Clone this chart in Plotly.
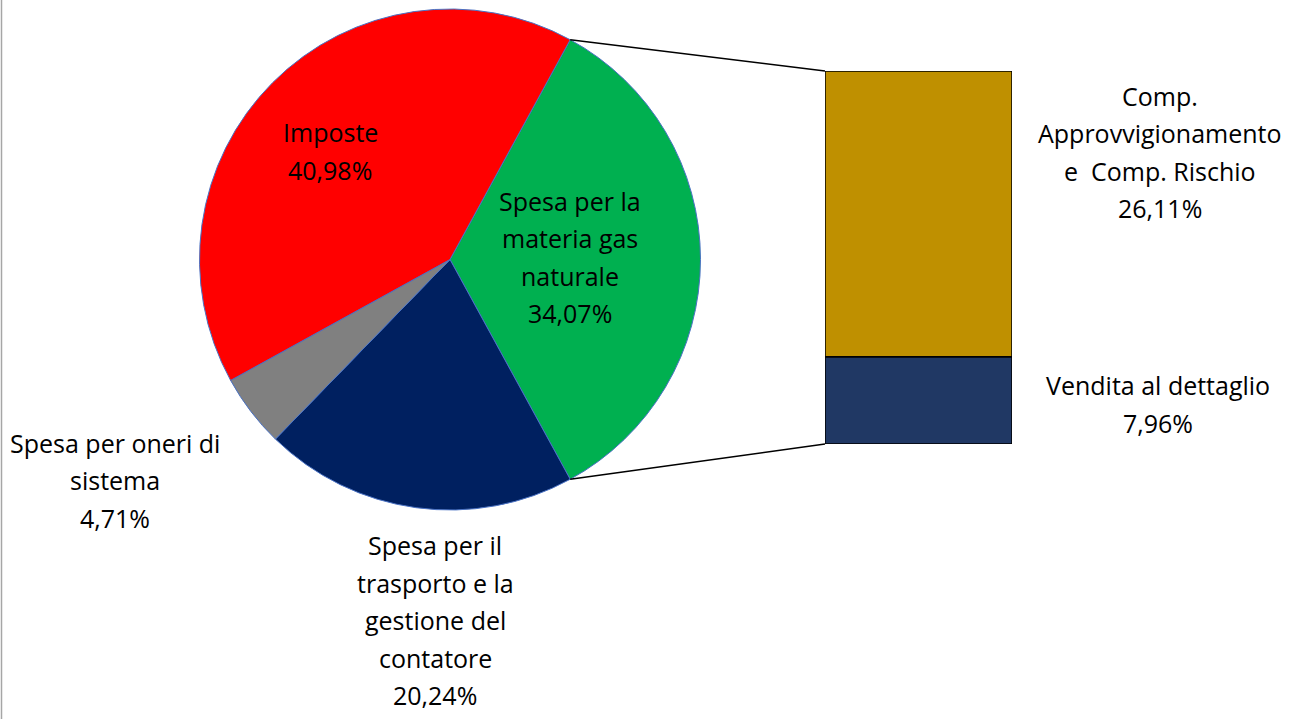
import math
import plotly.graph_objects as go

# dati della torta (ordine orario a partire dalla fetta scomposta)
pie_labels = ["Spesa per la materia gas naturale", "Spesa per il trasporto e la gestione del contatore",
              "Spesa per oneri di sistema", "Imposte"]
pie_values = [34.07, 20.24, 4.71, 40.98]
pie_colors = ["#00B050", "#002060", "#808080", "#FF0000"]

# dettaglio della fetta "materia gas naturale"
bar_labels = ["Vendita al dettaglio", "Comp. Approvvigionamento e Comp. Rischio"]
bar_values = [7.96, 26.11]
bar_colors = ["#203864", "#BF9000"]

W, H = 1301, 719
FONT = "Open Sans"
LINE_H = 37.5

# geometria (pixel)
pie_cx, pie_cy, pie_r = 450, 259.5, 250.5
bar_x0, bar_x1, bar_top, bar_bot = 825, 1012, 71, 444


def px(x):
    return x / W


def py(y):
    return 1 - y / H


split = pie_values[0]
total = sum(pie_values)
rot = 90 - split / total * 360 / 2  # fetta scomposta centrata a ore 3

fig = go.Figure()
fig.add_trace(go.Pie(
    labels=pie_labels, values=pie_values, sort=False, direction="clockwise",
    rotation=rot, textinfo="none", hoverinfo="label+percent",
    marker=dict(colors=pie_colors, line=dict(color="#4A72C4", width=1)),
    domain=dict(x=[px(pie_cx - pie_r), px(pie_cx + pie_r)],
                y=[py(pie_cy + pie_r), py(pie_cy - pie_r)]),
    showlegend=False,
))

base = 0
for lab, val, col in zip(bar_labels, bar_values, bar_colors):
    fig.add_trace(go.Bar(
        x=[0], y=[val], base=[base], width=1, name=lab,
        marker=dict(color=col, line=dict(color="#000000", width=1.5)),
        xaxis="x", yaxis="y", showlegend=False, hoverinfo="name+y",
    ))
    base += val

# linee di collegamento torta -> barra
a0 = math.radians(rot)
a1 = math.radians(rot + split / total * 360)
p_top = (pie_cx + pie_r * math.sin(a0), pie_cy - pie_r * math.cos(a0))
p_bot = (pie_cx + pie_r * math.sin(a1), pie_cy - pie_r * math.cos(a1))
shapes = [
    dict(type="line", xref="paper", yref="paper", x0=px(p_top[0]), y0=py(p_top[1]),
         x1=px(bar_x0), y1=py(bar_top), line=dict(color="black", width=1.5)),
    dict(type="line", xref="paper", yref="paper", x0=px(p_bot[0]), y0=py(p_bot[1]),
         x1=px(bar_x0), y1=py(bar_bot), line=dict(color="black", width=1.5)),
    dict(type="line", xref="paper", yref="paper", x0=px(1.5), y0=0, x1=px(1.5), y1=1,
         line=dict(color="#A6A6A6", width=1.5)),
]


def fmt(v):
    return f"{v:.2f}".replace(".", ",") + "%"


label_text = [
    (["Imposte", fmt(pie_values[3])], 330, 151),
    (["Spesa per la", "materia gas", "naturale", fmt(pie_values[0])], 570, 257),
    (["Spesa per il", "trasporto e la", "gestione del", "contatore", fmt(pie_values[1])], 435, 620),
    (["Spesa per oneri di", "sistema", fmt(pie_values[2])], 115, 480),
    (["Comp.", "Approvvigionamento", "e  Comp. Rischio", fmt(bar_values[1])], 1160, 152),
    (["Vendita al dettaglio", fmt(bar_values[0])], 1158, 404),
]
annotations = []
for lines, x, y in label_text:
    n = len(lines)
    for i, t in enumerate(lines):
        yy = y + (i - (n - 1) / 2) * LINE_H
        annotations.append(dict(
            text=t, x=px(x), y=py(yy), xref="paper", yref="paper", showarrow=False,
            xanchor="center", yanchor="middle",
            font=dict(family=FONT, size=25, color="black")))

fig.update_layout(
    width=W, height=H, margin=dict(l=0, r=0, t=0, b=0),
    paper_bgcolor="white", plot_bgcolor="white",
    xaxis=dict(domain=[px(bar_x0), px(bar_x1)], range=[-0.5, 0.5], visible=False, fixedrange=True),
    yaxis=dict(domain=[py(bar_bot), py(bar_top)], range=[0, split], visible=False, fixedrange=True),
    shapes=shapes, annotations=annotations, barmode="overlay",
)

fig.write_html("out.html", config={"displayModeBar": False},
               post_script="document.body.style.margin='0';")
